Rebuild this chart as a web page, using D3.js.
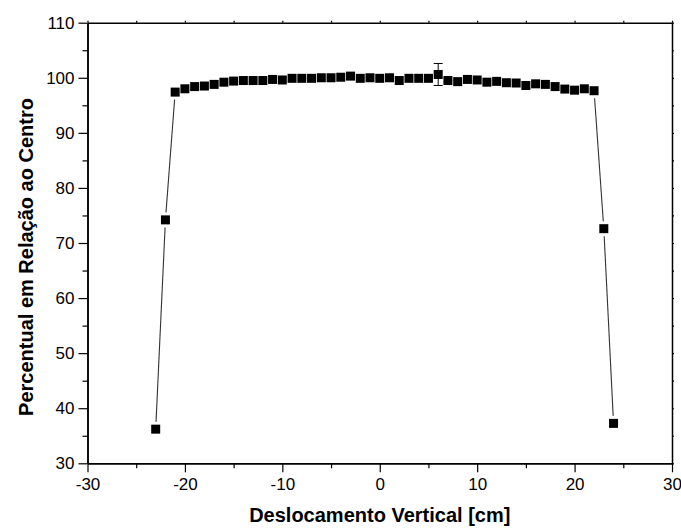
<!DOCTYPE html>
<html>
<head>
<meta charset="utf-8">
<script src="https://cdn.jsdelivr.net/npm/d3@7"></script>
<style>
  body { margin: 0; background: #fff; }
  svg { display: block; font-family: "Liberation Sans", Arial, sans-serif; }
</style>
</head>
<body>
<svg id="chart" width="681" height="528"></svg>
<script>
/* global d3*/

const xValues = [-23, -22, -21, -20, -19, -18, -17, -16, -15, -14, -13, -12, -11, -10, -9, -8, -7, -6, -5, -4, -3, -2, -1,
  0, 1, 2, 3, 4, 5, 6, 7, 8, 9, 10, 11, 12, 13, 14, 15, 16, 17, 18, 19, 20, 21, 22, 23, 24]
const yValues = [36.2, 74.2, 97.4, 98.0, 98.4, 98.5, 98.8, 99.2, 99.4, 99.5, 99.5, 99.5, 99.7, 99.6, 99.9, 99.9, 99.9, 100.0, 100.0, 100.1, 100.3, 99.9, 100.0,
  99.9, 100.0, 99.5, 99.9, 99.9, 99.9, 100.6, 99.5, 99.3, 99.7, 99.6, 99.2, 99.35, 99.1, 99.05, 98.6, 98.9, 98.8, 98.4, 97.95, 97.75, 98.0, 97.65, 72.6, 37.25]

// only one point carries an error bar
const errX = [6]
const errY = [2.0]

const xMajor = [-30, -20, -10, 0, 10, 20, 30]
const yMajor = [30, 40, 50, 60, 70, 80, 90, 100, 110]

const xTitle = 'Deslocamento Vertical [cm]'
const yTitle = 'Percentual em Relação ao Centro'

const plotLeft = 87.5
const plotRight = 672
const plotTop = 22.7
const plotBottom = 463.3
const markerSize = 9
const lineGap = 7.5

const svg = d3.select('#chart')

const x = d3.scaleLinear().domain([-30, 30]).range([plotLeft, plotRight])
const y = d3.scaleLinear().domain([30, 110]).range([plotBottom, plotTop])

const points = xValues.map((v, i) => ({ x: v, y: yValues[i] }))

// connecting line, cut short near each marker like Origin does
const segments = []
for (let i = 0; i < points.length - 1; i++) {
  const x1 = x(points[i].x), y1 = y(points[i].y)
  const x2 = x(points[i + 1].x), y2 = y(points[i + 1].y)
  const len = Math.hypot(x2 - x1, y2 - y1)
  if (len > 2 * lineGap + 1) {
    const dx = (x2 - x1) / len, dy = (y2 - y1) / len
    segments.push([x1 + dx * lineGap, y1 + dy * lineGap, x2 - dx * lineGap, y2 - dy * lineGap])
  }
}

svg.append('g')
  .selectAll('line')
  .data(segments)
  .enter()
  .append('line')
  .attr('x1', d => d[0])
  .attr('y1', d => d[1])
  .attr('x2', d => d[2])
  .attr('y2', d => d[3])
  .attr('stroke', '#333')
  .attr('stroke-width', 1.1)

// error bars
const errs = errX.map((v, i) => ({ x: v, y: yValues[xValues.indexOf(v)], e: errY[i] }))
const errG = svg.append('g').attr('stroke', '#000').attr('stroke-width', 1)
errs.forEach(d => {
  errG.append('line')
    .attr('x1', x(d.x)).attr('x2', x(d.x))
    .attr('y1', y(d.y - d.e)).attr('y2', y(d.y + d.e))
  ;[d.y - d.e, d.y + d.e].forEach(v => {
    errG.append('line')
      .attr('x1', x(d.x) - 4.5).attr('x2', x(d.x) + 4.5)
      .attr('y1', y(v)).attr('y2', y(v))
  })
})

svg.append('g')
  .selectAll('rect')
  .data(points)
  .enter()
  .append('rect')
  .attr('x', d => x(d.x) - markerSize / 2)
  .attr('y', d => y(d.y) - markerSize / 2)
  .attr('width', markerSize)
  .attr('height', markerSize)
  .attr('fill', '#000')

// axes
function styleAxis(g) {
  g.select('.domain').attr('stroke', '#000').attr('stroke-width', 1.5)
  g.selectAll('.tick line').attr('stroke', '#000').attr('stroke-width', 1.2)
  g.selectAll('.tick text').attr('fill', '#000').attr('font-size', 17)
    .attr('font-family', '"Liberation Sans", Arial, sans-serif')
}

const xMinor = d3.range(-25, 30, 10)
const yMinor = d3.range(35, 110, 10)
const plainNum = d => String(d)

svg.append('g')
  .attr('transform', `translate(0,${plotBottom})`)
  .call(d3.axisBottom(x).tickValues(xMinor).tickSize(5).tickFormat('').tickSizeOuter(0))
  .call(styleAxis)
svg.append('g')
  .attr('transform', `translate(0,${plotBottom})`)
  .call(d3.axisBottom(x).tickValues(xMajor).tickSize(9).tickPadding(6).tickFormat(plainNum).tickSizeOuter(0))
  .call(styleAxis)

svg.append('g')
  .attr('transform', `translate(${plotLeft},0)`)
  .call(d3.axisLeft(y).tickValues(yMinor).tickSize(5).tickFormat('').tickSizeOuter(0))
  .call(styleAxis)
svg.append('g')
  .attr('transform', `translate(${plotLeft},0)`)
  .call(d3.axisLeft(y).tickValues(yMajor).tickSize(9).tickPadding(4).tickFormat(plainNum).tickSizeOuter(0))
  .call(styleAxis)

// mirrored top and right axes with tiny ticks
svg.append('g')
  .attr('transform', `translate(0,${plotTop})`)
  .call(d3.axisTop(x).tickValues(xMajor.concat(xMinor)).tickSize(2).tickFormat('').tickSizeOuter(0))
  .call(styleAxis)
svg.append('g')
  .attr('transform', `translate(${plotRight},0)`)
  .call(d3.axisRight(y).tickValues(yMajor.concat(yMinor)).tickSize(2).tickFormat('').tickSizeOuter(0))
  .call(styleAxis)

svg.append('text')
  .attr('x', (plotLeft + plotRight) / 2)
  .attr('y', 522)
  .attr('text-anchor', 'middle')
  .attr('font-size', 20)
  .attr('font-weight', 'bold')
  .text(xTitle)

svg.append('text')
  .attr('transform', `translate(33,257) rotate(-90)`)
  .attr('text-anchor', 'middle')
  .attr('font-size', 20)
  .attr('font-weight', 'bold')
  .text(yTitle)
</script>
</body>
</html>
